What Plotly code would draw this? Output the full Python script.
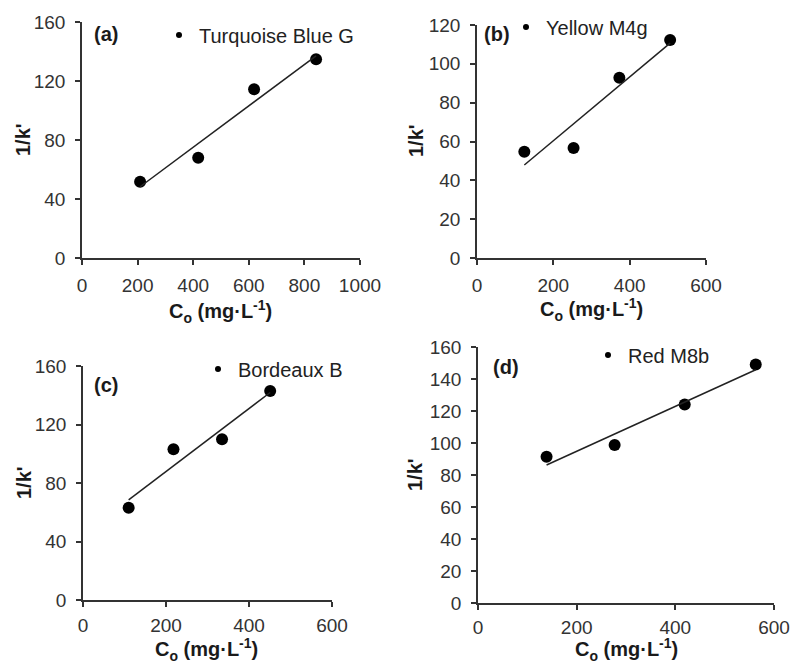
import numpy as np
import plotly.graph_objects as go

# ---------------- data ----------------
names = ["Turquoise Blue G", "Yellow M4g", "Bordeaux B", "Red M8b"]
panel_labels = ["(a)", "(b)", "(c)", "(d)"]
x_title = "<b>C<sub>o</sub> (mg·L<sup>-1</sup>)</b>"
y_title = "<b>1/k'</b>"

co_a = [209, 418, 619, 842]
k_a = [51.7, 68.0, 114.4, 134.7]

co_b = [124, 253, 373, 506]
k_b = [54.7, 56.7, 92.8, 112.3]

co_c = [110, 218, 335, 451]
k_c = [63.1, 103.0, 109.9, 142.9]

co_d = [139, 277, 419, 563]
k_d = [91.4, 98.7, 124.1, 149.0]

x_ticks_a = [0, 200, 400, 600, 800, 1000]
x_ticks_bcd = [0, 200, 400, 600]
y_ticks_a = [0, 40, 80, 120, 160]
y_ticks_b = [0, 20, 40, 60, 80, 100, 120]
y_ticks_c = [0, 40, 80, 120, 160]
y_ticks_d = [0, 20, 40, 60, 80, 100, 120, 140, 160]

xs = [co_a, co_b, co_c, co_d]
ys = [k_a, k_b, k_c, k_d]
xticks = [x_ticks_a, x_ticks_bcd, x_ticks_bcd, x_ticks_bcd]
yticks = [y_ticks_a, y_ticks_b, y_ticks_c, y_ticks_d]

# ---------------- layout geometry (pixels) ----------------
W, H = 793, 664
boxes = [(82, 360, 22, 258), (477, 706, 25, 258), (83, 332, 366, 600), (478, 774, 347, 603)]
legend_pos = [(159, 35), (506, 27), (198, 369), (588, 355)]
label_pos = [(106, 34), (497, 34), (106, 385), (506, 367)]
xtitle_pos = [(221, 311), (591, 309), (207, 649), (626, 649)]
ytitle_pos = [(23, 140), (416, 141), (24, 483), (415, 475)]
xlabel_standoff = [4, 4, 2, 1]

FONT = "Arial, Liberation Sans, sans-serif"
AX = "#333333"

fig = go.Figure()
layout_extra = {}
annotations = []


def ann(x, y, text, angle=0):
    return dict(x=x / W, y=1 - y / H, xref="paper", yref="paper", text=text,
                showarrow=False, xanchor="center", yanchor="middle", textangle=angle,
                font=dict(family=FONT, size=20, color="#1a1a1a"))


for i in range(4):
    n = i + 1
    xa = "x" if n == 1 else f"x{n}"
    ya = "y" if n == 1 else f"y{n}"
    leg = "legend" if n == 1 else f"legend{n}"
    x = np.array(xs[i], dtype=float)
    y = np.array(ys[i], dtype=float)

    # data points
    fig.add_trace(go.Scatter(x=x, y=y, mode="markers", xaxis=xa, yaxis=ya,
                             marker=dict(color="black", size=12),
                             showlegend=False, hoverinfo="x+y"))
    # linear trendline (least squares)
    m, b = np.polyfit(x, y, 1)
    xl = np.array([x.min(), x.max()])
    fig.add_trace(go.Scatter(x=xl, y=m * xl + b, mode="lines", xaxis=xa, yaxis=ya,
                             line=dict(color="#222222", width=1.5),
                             showlegend=False, hoverinfo="skip"))
    # legend entry (small dot)
    fig.add_trace(go.Scatter(x=[None], y=[None], mode="markers", xaxis=xa, yaxis=ya,
                             name=names[i], legend=leg,
                             marker=dict(color="black", size=6), showlegend=True))

    x0, x1, y0, y1 = boxes[i]
    axkey_x = "xaxis" if n == 1 else f"xaxis{n}"
    axkey_y = "yaxis" if n == 1 else f"yaxis{n}"
    layout_extra[axkey_x] = dict(
        domain=[x0 / W, x1 / W], anchor=ya, automargin=False,
        range=[0, xticks[i][-1]], tickvals=xticks[i],
        showline=True, linecolor=AX, linewidth=1.5, mirror=False,
        ticks="outside", ticklen=5, tickwidth=1.5, tickcolor=AX,
        showgrid=False, zeroline=False,
        tickfont=dict(family=FONT, size=19, color="#333333"),
        ticklabelstandoff=xlabel_standoff[i],
    )
    layout_extra[axkey_y] = dict(
        domain=[1 - y1 / H, 1 - y0 / H], anchor=xa, automargin=False,
        range=[0, yticks[i][-1]], tickvals=yticks[i],
        showline=True, linecolor=AX, linewidth=1.5,
        ticks="outside", ticklen=5, tickwidth=1.5, tickcolor=AX,
        showgrid=False, zeroline=False,
        tickfont=dict(family=FONT, size=19, color="#333333"),
        ticklabelstandoff=6,
    )
    lx, ly = legend_pos[i]
    layout_extra[leg] = dict(
        x=lx / W, y=1 - ly / H, xanchor="left", yanchor="middle",
        bgcolor="rgba(0,0,0,0)", borderwidth=0, itemwidth=30,
        font=dict(family=FONT, size=20, color="#222222"),
        tracegroupgap=0,
    )
    annotations.append(ann(*label_pos[i], f"<b>{panel_labels[i]}</b>"))
    annotations.append(ann(*xtitle_pos[i], x_title))
    annotations.append(ann(*ytitle_pos[i], y_title, angle=-90))

fig.update_layout(
    width=W, height=H,
    margin=dict(l=0, r=0, t=0, b=0),
    paper_bgcolor="white", plot_bgcolor="white",
    font=dict(family=FONT, color="#222222"),
    annotations=annotations,
    **layout_extra,
)

fig.write_html(
    "out.html",
    config={"displayModeBar": False},
    post_script="document.body.style.margin='0';document.body.style.overflow='hidden';",
)
